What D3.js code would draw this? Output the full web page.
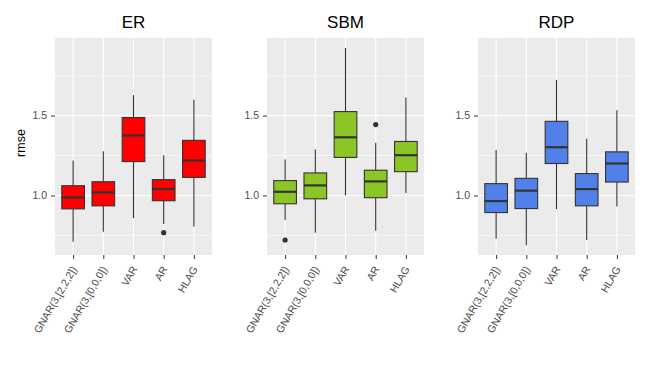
<!DOCTYPE html>
<html>
<head>
<meta charset="utf-8">
<script src="https://cdn.jsdelivr.net/npm/d3@7"></script>
<style>
  body { margin: 0; background: #fff; }
  text { font-family: "Liberation Sans", Arial, sans-serif; }
</style>
</head>
<body>
<div id="chart"></div>
<script>
// model names on the x axis
var models = ["GNAR(3,[2,2,2])", "GNAR(3,[0,0,0])", "VAR", "AR", "HLAG"];
var panels = ["ER", "SBM", "RDP"];
var colors = ["#ff0000", "#8cc626", "#5080e8"];

// box stats per panel: [lowWhisker, q1, median, q3, highWhisker]
var erStats = [
  [0.710, 0.916, 0.987, 1.061, 1.219],
  [0.773, 0.935, 1.019, 1.086, 1.277],
  [0.858, 1.212, 1.376, 1.488, 1.628],
  [0.822, 0.967, 1.040, 1.099, 1.252],
  [0.805, 1.113, 1.219, 1.345, 1.599]
];
var sbmStats = [
  [0.847, 0.948, 1.023, 1.093, 1.225],
  [0.767, 0.979, 1.063, 1.141, 1.288],
  [1.000, 1.238, 1.364, 1.525, 1.924],
  [0.779, 0.986, 1.088, 1.158, 1.330],
  [1.015, 1.149, 1.252, 1.338, 1.614]
];
var rdpStats = [
  [0.729, 0.893, 0.965, 1.074, 1.284],
  [0.689, 0.918, 1.030, 1.107, 1.267],
  [0.914, 1.200, 1.302, 1.464, 1.723],
  [0.721, 0.935, 1.040, 1.137, 1.355],
  [0.931, 1.084, 1.200, 1.273, 1.534]
];
// outliers: [modelIndex, value]
var erOutliers = [[3, 0.767]];
var sbmOutliers = [[0, 0.721], [3, 1.444]];
var rdpOutliers = [];

var allStats = [erStats, sbmStats, rdpStats];
var allOutliers = [erOutliers, sbmOutliers, rdpOutliers];
var yTicks = [1.0, 1.5];
var yMinor = [0.75, 1.25, 1.75];

var W = 650, H = 376;
var panelLeft = [55, 267, 478];
var panelW = 157;
var plotTop = 38, plotBottom = 255;

var svg = d3.select("#chart").append("svg")
  .attr("width", W).attr("height", H);

// shared y scale with ggplot style 5% expansion
var vals = [];
allStats.forEach(function(s){ s.forEach(function(b){ vals.push(b[0], b[4]); }); });
allOutliers.forEach(function(o){ o.forEach(function(p){ vals.push(p[1]); }); });
var ext = d3.extent(vals);
var pad = (ext[1] - ext[0]) * 0.05;
var y = d3.scaleLinear().domain([ext[0] - pad, ext[1] + pad]).range([plotBottom, plotTop]);

svg.append("text")
  .attr("transform", "translate(21,143) rotate(-90)")
  .attr("text-anchor", "middle")
  .attr("dy", "0.35em")
  .style("font-size", "12.5px")
  .style("fill", "#000")
  .text("rmse");

panels.forEach(function(name, pi){
  var x0 = panelLeft[pi];
  var x = d3.scalePoint().domain(models).range([0, panelW]).padding(0.6);
  var bw = x.step() * 0.75;
  var g = svg.append("g").attr("transform", "translate(" + x0 + ",0)");

  g.append("rect")
    .attr("x", 0).attr("y", plotTop)
    .attr("width", panelW).attr("height", plotBottom - plotTop)
    .attr("fill", "#ebebeb");

  // grid
  g.selectAll(".minor").data(yMinor).enter().append("line")
    .attr("x1", 0).attr("x2", panelW)
    .attr("y1", function(d){ return y(d); }).attr("y2", function(d){ return y(d); })
    .attr("stroke", "#fff").attr("stroke-width", 0.55);
  g.selectAll(".major").data(yTicks).enter().append("line")
    .attr("x1", 0).attr("x2", panelW)
    .attr("y1", function(d){ return y(d); }).attr("y2", function(d){ return y(d); })
    .attr("stroke", "#fff").attr("stroke-width", 1.1);
  g.selectAll(".vgrid").data(models).enter().append("line")
    .attr("x1", function(d){ return x(d); }).attr("x2", function(d){ return x(d); })
    .attr("y1", plotTop).attr("y2", plotBottom)
    .attr("stroke", "#fff").attr("stroke-width", 1.1);

  // y axis
  var ya = g.append("g").call(d3.axisLeft(y).tickValues(yTicks)
    .tickFormat(d3.format(".1f")).tickSize(4).tickPadding(4));
  ya.select(".domain").remove();
  ya.selectAll("line").attr("stroke", "#333");
  ya.selectAll("text").style("font-size", "10.5px").attr("fill", "#4d4d4d")
    .style("font-family", "'Liberation Sans', Arial, sans-serif");

  // x axis
  var xa = g.append("g").attr("transform", "translate(0," + plotBottom + ")")
    .call(d3.axisBottom(x).tickSize(4).tickPadding(2));
  xa.select(".domain").remove();
  xa.selectAll("line").attr("stroke", "#333");
  xa.selectAll("text")
    .style("font-size", "10.5px").attr("fill", "#4d4d4d")
    .style("font-family", "'Liberation Sans', Arial, sans-serif")
    .attr("text-anchor", "end")
    .attr("dy", "0.35em")
    .attr("transform", "translate(0.5,12) rotate(-60)")
    .attr("x", 0).attr("y", 0);

  // boxes
  var stats = allStats[pi];
  var bx = g.selectAll(".box").data(stats).enter().append("g");
  bx.append("line")
    .attr("x1", function(d, i){ return x(models[i]); })
    .attr("x2", function(d, i){ return x(models[i]); })
    .attr("y1", function(d){ return y(d[4]); })
    .attr("y2", function(d){ return y(d[3]); })
    .attr("stroke", "#333").attr("stroke-width", 1.1);
  bx.append("line")
    .attr("x1", function(d, i){ return x(models[i]); })
    .attr("x2", function(d, i){ return x(models[i]); })
    .attr("y1", function(d){ return y(d[1]); })
    .attr("y2", function(d){ return y(d[0]); })
    .attr("stroke", "#333").attr("stroke-width", 1.1);
  bx.append("rect")
    .attr("x", function(d, i){ return x(models[i]) - bw / 2; })
    .attr("y", function(d){ return y(d[3]); })
    .attr("width", bw)
    .attr("height", function(d){ return y(d[1]) - y(d[3]); })
    .attr("fill", colors[pi])
    .attr("stroke", "#333").attr("stroke-width", 1.1);
  bx.append("line")
    .attr("x1", function(d, i){ return x(models[i]) - bw / 2; })
    .attr("x2", function(d, i){ return x(models[i]) + bw / 2; })
    .attr("y1", function(d){ return y(d[2]); })
    .attr("y2", function(d){ return y(d[2]); })
    .attr("stroke", "#333").attr("stroke-width", 2.2);

  g.selectAll(".out").data(allOutliers[pi]).enter().append("circle")
    .attr("cx", function(d){ return x(models[d[0]]); })
    .attr("cy", function(d){ return y(d[1]); })
    .attr("r", 2.6)
    .attr("fill", "#333");

  // panel title
  g.append("text")
    .attr("x", panelW / 2).attr("y", 28)
    .attr("text-anchor", "middle")
    .style("font-size", "17px")
    .style("fill", "#000")
    .text(name);
});
</script>
</body>
</html>
